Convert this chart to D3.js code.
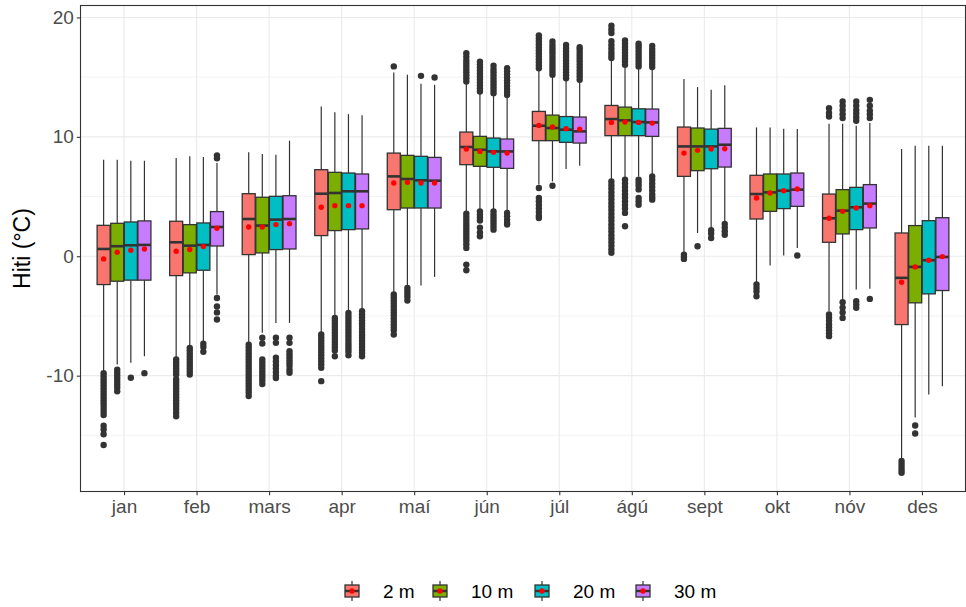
<!DOCTYPE html>
<html>
<head>
<meta charset="utf-8">
<script src="https://cdn.jsdelivr.net/npm/d3@7"></script>
<style>
  body { margin: 0; background: #fff; }
  text { font-family: "Liberation Sans", Arial, sans-serif; }
</style>
</head>
<body>
<svg id="chart" width="966" height="607"></svg>
<script>
// Categories
const months = ['jan', 'feb', 'mars', 'apr', 'maí', 'jún', 'júl', 'ágú', 'sept', 'okt', 'nóv', 'des'];
const depths = ['2 m', '10 m', '20 m', '30 m'];
const depthColors = ['#F8766D', '#7CAE00', '#00BFC4', '#C77CFF'];
const yTicks = [-10, 0, 10, 20];
const yMinor = [-15, -5, 5, 15];

// Box statistics, one row per month, one value per depth (2, 10, 20, 30 m)
const whiskerLow = [
  [-9.62, -9.06, -8.92, -8.37], [-8.5, -7.53, -7.11, -3.2], [-7.25, -6.41, -5.58, -5.58],
  [-6.36, -5.02, -4.6, -4.46], [-3.07, -2.43, -2.45, -1.73], [3.63, 3.9, 3.9, 3.76],
  [6.0, 6.27, 7.3, 7.59], [6.41, 6.55, 6.69, 6.83], [0.33, 1.95, 2.29, 2.79],
  [-2.23, -0.78, 0.06, 0.7], [-4.6, -3.63, -2.79, -2.73], [-17.0, -13.5, -11.57, -10.88]
];
const q1 = [
  [-2.37, -2.09, -2.0, -2.0], [-1.62, -1.39, -1.17, 0.86], [0.14, 0.28, 0.56, 0.61],
  [1.73, 2.15, 2.23, 2.29], [3.9, 4.04, 4.04, 4.04], [7.67, 7.53, 7.45, 7.36],
  [9.68, 9.68, 9.54, 9.48], [10.1, 10.1, 10.1, 10.04], [6.69, 7.17, 7.33, 7.47],
  [3.12, 3.76, 3.99, 4.18], [1.17, 1.87, 2.23, 2.37], [-5.72, -3.9, -3.15, -2.87]
];
const median = [
  [0.61, 0.84, 0.92, 0.95], [1.17, 0.89, 0.95, 2.45], [3.12, 2.57, 3.07, 3.12],
  [5.24, 5.3, 5.44, 5.44], [6.69, 6.47, 6.36, 6.33], [9.15, 8.92, 8.78, 8.78],
  [10.93, 10.74, 10.6, 10.46], [11.49, 11.38, 11.24, 11.21], [9.2, 9.2, 9.2, 9.34],
  [5.21, 5.35, 5.49, 5.58], [3.18, 3.82, 4.1, 4.41], [-1.81, -0.89, -0.33, -0.06]
];
const q3 = [
  [2.59, 2.76, 2.87, 2.96], [2.93, 2.65, 2.79, 3.74], [5.24, 4.94, 5.02, 5.07],
  [7.25, 7.03, 6.97, 6.89], [8.64, 8.45, 8.37, 8.28], [10.4, 10.04, 9.9, 9.82],
  [12.13, 11.82, 11.7, 11.66], [12.63, 12.49, 12.35, 12.33], [10.82, 10.74, 10.65, 10.71],
  [6.78, 6.89, 6.89, 6.97], [5.21, 5.58, 5.77, 6.0], [1.95, 2.57, 2.98, 3.23]
];
const whiskerHigh = [
  [8.09, 8.09, 8.0, 8.0], [8.23, 8.37, 8.31, 7.8], [8.7, 8.56, 8.5, 9.68],
  [12.55, 12.05, 11.9, 11.8], [15.39, 15.2, 14.45, 14.36], [14.45, 13.66, 13.5, 13.3],
  [15.6, 15.06, 14.78, 14.64], [16.45, 15.9, 15.84, 15.75], [14.84, 14.17, 13.94, 14.33],
  [10.79, 10.79, 10.68, 10.65], [11.1, 11.1, 10.93, 11.15], [8.98, 9.26, 9.26, 9.26]
];
const means = [
  [-0.22, 0.33, 0.5, 0.61], [0.42, 0.56, 0.81, 2.34], [2.45, 2.45, 2.65, 2.73],
  [4.1, 4.24, 4.24, 4.24], [6.13, 6.19, 6.13, 6.13], [8.98, 8.78, 8.7, 8.64],
  [10.96, 10.82, 10.68, 10.65], [11.21, 11.24, 11.21, 11.15], [8.64, 8.87, 8.98, 9.0],
  [4.88, 5.3, 5.49, 5.63], [3.18, 3.76, 4.04, 4.24], [-2.18, -0.89, -0.33, -0.03]
];

// Outliers, per month, per depth
const outliers = [
  [ // jan
    [-9.8, -10.05, -10.3, -10.55, -10.8, -11.05, -11.3, -11.55, -11.8, -12.05, -12.3, -12.55, -12.8, -13.05, -13.3, -14.2, -14.5, -14.9, -15.8],
    [-9.5, -9.75, -10.0, -10.25, -10.5, -10.75, -11.0, -11.3],
    [-10.18],
    [-9.79]
  ],
  [ // feb
    [-8.65, -8.9, -9.15, -9.4, -9.65, -9.9, -10.3, -10.55, -10.8, -11.05, -11.3, -11.55, -11.8, -12.05, -12.3, -12.55, -12.8, -13.1, -13.4],
    [-7.67, -7.9, -8.15, -8.4, -8.65, -8.9, -9.15, -9.4, -9.65, -9.9],
    [-7.33, -7.6, -8.0],
    [8.2, 8.45, -3.49, -4.2, -4.7, -5.3]
  ],
  [ // mars
    [-7.4, -7.65, -7.9, -8.15, -8.4, -8.65, -8.9, -9.15, -9.4, -9.65, -9.9, -10.15, -10.4, -10.65, -10.9, -11.15, -11.4, -11.7],
    [-6.83, -7.3, -8.64, -8.9, -9.15, -9.4, -9.65, -9.9, -10.15, -10.4, -10.7],
    [-6.83, -7.25, -8.5, -8.8, -9.1, -9.4, -9.7, -10.0, -10.2],
    [-6.83, -7.25, -7.95, -8.2, -8.45, -8.7, -8.95, -9.2, -9.5, -9.76]
  ],
  [ // apr
    [-6.55, -6.8, -7.05, -7.3, -7.55, -7.8, -8.05, -8.3, -8.55, -8.8, -9.05, -9.34, -10.46],
    [-5.16, -5.4, -5.65, -5.9, -6.15, -6.4, -6.65, -6.9, -7.15, -7.4, -7.65, -7.9, -8.37],
    [-4.74, -5.0, -5.25, -5.5, -5.75, -6.0, -6.25, -6.5, -6.75, -7.0, -7.25, -7.5, -7.75, -8.0, -8.3],
    [-4.6, -4.85, -5.1, -5.35, -5.6, -5.85, -6.1, -6.35, -6.6, -6.85, -7.1, -7.35, -7.6, -7.85, -8.1, -8.37]
  ],
  [ // maí
    [15.9, -3.2, -3.45, -3.7, -3.95, -4.2, -4.45, -4.7, -4.95, -5.2, -5.45, -5.7, -5.95, -6.2, -6.55],
    [-2.65, -2.9, -3.15, -3.4, -3.7],
    [15.11],
    [14.97]
  ],
  [ // jún
    [14.64, 14.9, 15.15, 15.4, 15.65, 15.9, 16.15, 16.4, 16.7, 17.0, 3.57, 3.3, 3.05, 2.8, 2.55, 2.3, 2.05, 1.8, 1.55, 1.3, 1.0, 0.7, -0.7, -1.17],
    [13.8, 14.05, 14.3, 14.55, 14.8, 15.05, 15.3, 15.55, 15.8, 16.05, 16.3, 3.76, 3.5, 3.25, 3.0, 2.4, 2.0, 1.67],
    [13.66, 13.9, 14.15, 14.4, 14.65, 14.9, 15.15, 15.4, 15.65, 15.95, 3.76, 3.5, 3.25, 3.0, 2.75, 2.5, 2.23],
    [13.5, 13.75, 14.0, 14.25, 14.5, 14.75, 15.0, 15.25, 15.5, 15.75, 3.63, 3.35, 3.05, 2.8, 2.65]
  ],
  [ // júl
    [15.75, 16.0, 16.25, 16.5, 16.75, 17.0, 17.25, 17.5, 17.75, 18.0, 18.25, 18.5, 5.72, 4.88, 4.6, 4.3, 4.0, 3.7, 3.4, 3.2],
    [15.2, 15.45, 15.7, 15.95, 16.2, 16.45, 16.7, 16.95, 17.2, 17.45, 17.7, 17.99, 5.91],
    [14.9, 15.15, 15.4, 15.65, 15.9, 16.15, 16.4, 16.65, 16.9, 17.15, 17.4, 17.7],
    [14.78, 15.05, 15.3, 15.55, 15.8, 16.05, 16.3, 16.55, 16.8, 17.05, 17.3, 17.5]
  ],
  [ // ágú
    [19.3, 19.0, 18.7, 18.0, 17.7, 17.4, 17.1, 16.85, 16.6, 6.27, 5.97, 5.67, 5.37, 5.07, 4.77, 4.47, 4.17, 3.87, 3.57, 3.27, 2.97, 2.67, 2.37, 2.07, 1.77, 1.47, 1.17, 0.87, 0.57, 0.28],
    [16.03, 16.3, 16.55, 16.8, 17.05, 17.3, 17.55, 17.8, 18.07, 6.41, 6.1, 5.8, 5.5, 5.2, 4.9, 4.6, 4.3, 4.0, 3.63, 2.51],
    [15.9, 16.15, 16.4, 16.65, 16.9, 17.15, 17.4, 17.6, 17.8, 6.41, 6.15, 5.9, 5.6, 4.88, 4.6, 4.32],
    [15.84, 16.1, 16.35, 16.6, 16.85, 17.1, 17.35, 17.62, 6.69, 6.4, 6.1, 5.8, 5.5, 5.2, 4.95, 4.74]
  ],
  [ // sept
    [0.14, -0.05, -0.22],
    [0.84],
    [2.18, 1.9, 1.53],
    [2.7, 2.4, 2.1, 1.8]
  ],
  [ // okt
    [-2.37, -2.65, -2.95, -3.35],
    [],
    [],
    [0.06]
  ],
  [ // nóv
    [11.7, 12.0, 12.4, -4.88, -5.15, -5.4, -5.7, -5.95, -6.2, -6.45, -6.69],
    [11.57, 11.9, 12.25, 12.6, 12.97, -3.85, -4.3, -4.7, -5.16],
    [11.35, 11.65, 11.95, 12.25, 12.6, 12.97, -3.76, -4.05, -4.32],
    [11.57, 11.9, 12.2, 12.6, 13.1, -3.57]
  ],
  [ // des
    [-17.15, -17.4, -17.65, -17.9, -18.13],
    [-14.17, -14.84],
    [],
    []
  ]
];

const svg = d3.select('#chart');
const panel = { left: 80.5, right: 965.5, top: 5.5, bottom: 491.5 };

const x = d3.scalePoint().domain(months).range([panel.left, panel.right]).padding(0.6);
const y = d3.scaleLinear().domain([-19.7, 21.0]).range([panel.bottom, panel.top]);

const dodge = x.step() * 0.75 / depths.length;
const boxW = dodge - 0.6;
const ink = '#333333';

// Grid
const grid = svg.append('g');
grid.selectAll('.minor').data(yMinor).join('line')
  .attr('x1', panel.left).attr('x2', panel.right)
  .attr('y1', d => y(d)).attr('y2', d => y(d))
  .attr('stroke', '#EBEBEB').attr('stroke-width', 0.6);
grid.selectAll('.major').data(yTicks).join('line')
  .attr('x1', panel.left).attr('x2', panel.right)
  .attr('y1', d => y(d)).attr('y2', d => y(d))
  .attr('stroke', '#EBEBEB').attr('stroke-width', 1.1);
grid.selectAll('.vmajor').data(months).join('line')
  .attr('x1', d => x(d)).attr('x2', d => x(d))
  .attr('y1', panel.top).attr('y2', panel.bottom)
  .attr('stroke', '#EBEBEB').attr('stroke-width', 1.1);

// Build flat list of boxes
const boxes = [];
months.forEach((m, i) => {
  depths.forEach((dp, j) => {
    boxes.push({
      month: m, depth: j,
      cx: x(m) + (j - 1.5) * dodge,
      lo: whiskerLow[i][j], q1: q1[i][j], med: median[i][j], q3: q3[i][j], hi: whiskerHigh[i][j],
      mean: means[i][j], out: outliers[i][j]
    });
  });
});

const g = svg.append('g');
const bg = g.selectAll('g.box').data(boxes).join('g').attr('class', 'box');

// whiskers
bg.append('line')
  .attr('x1', d => d.cx).attr('x2', d => d.cx)
  .attr('y1', d => y(d.hi)).attr('y2', d => y(d.q3))
  .attr('stroke', ink).attr('stroke-width', 1.2);
bg.append('line')
  .attr('x1', d => d.cx).attr('x2', d => d.cx)
  .attr('y1', d => y(d.q1)).attr('y2', d => y(d.lo))
  .attr('stroke', ink).attr('stroke-width', 1.2);

// outliers
bg.selectAll('circle.out').data(d => d.out.map(v => ({ cx: d.cx, v }))).join('circle')
  .attr('class', 'out')
  .attr('cx', d => d.cx).attr('cy', d => y(d.v)).attr('r', 3.2)
  .attr('fill', ink);

// box
bg.append('rect')
  .attr('x', d => d.cx - boxW / 2).attr('width', boxW)
  .attr('y', d => y(d.q3)).attr('height', d => y(d.q1) - y(d.q3))
  .attr('fill', d => depthColors[d.depth])
  .attr('stroke', ink).attr('stroke-width', 1.3);

// median
bg.append('line')
  .attr('x1', d => d.cx - boxW / 2).attr('x2', d => d.cx + boxW / 2)
  .attr('y1', d => y(d.med)).attr('y2', d => y(d.med))
  .attr('stroke', ink).attr('stroke-width', 2.6);

// mean
bg.append('circle')
  .attr('cx', d => d.cx).attr('cy', d => y(d.mean)).attr('r', 2.7)
  .attr('fill', '#FF0000');

// Panel border
svg.append('rect')
  .attr('x', panel.left).attr('y', panel.top)
  .attr('width', panel.right - panel.left).attr('height', panel.bottom - panel.top)
  .attr('fill', 'none').attr('stroke', ink).attr('stroke-width', 1.1);

// Axes
const yAxis = svg.append('g').attr('transform', `translate(${panel.left},0)`)
  .call(d3.axisLeft(y).tickValues(yTicks).tickSize(3.7).tickPadding(3).tickFormat(d3.format('d')));
const xAxis = svg.append('g').attr('transform', `translate(0,${panel.bottom})`)
  .call(d3.axisBottom(x).tickSize(3.7).tickPadding(4));
[yAxis, xAxis].forEach(ax => {
  ax.select('.domain').remove();
  ax.selectAll('.tick line').attr('stroke', ink).attr('stroke-width', 1.1);
  ax.selectAll('.tick text').attr('fill', '#4D4D4D').style('font-size', '19px')
    .style('font-family', '"Liberation Sans", Arial, sans-serif');
});
yAxis.selectAll('.tick text').text(d => d < 0 ? '-' + Math.abs(d) : d);

// Y title
svg.append('text')
  .attr('transform', `translate(30,${(panel.top + panel.bottom) / 2}) rotate(-90)`)
  .attr('text-anchor', 'middle')
  .style('font-size', '23px').attr('fill', '#000')
  .text('Hiti (°C)');

// Legend
const legendX = [345, 433, 535, 636];
const legY = 591;
const leg = svg.append('g').selectAll('g').data(depths).join('g')
  .attr('transform', (d, i) => `translate(${legendX[i]},${legY})`);
leg.append('line').attr('x1', 7).attr('x2', 7).attr('y1', -10).attr('y2', 10)
  .attr('stroke', ink).attr('stroke-width', 1.2);
leg.append('rect').attr('x', 0).attr('y', -6).attr('width', 14).attr('height', 12)
  .attr('fill', (d, i) => depthColors[i]).attr('stroke', ink).attr('stroke-width', 1.3);
leg.append('line').attr('x1', 0).attr('x2', 14).attr('y1', 0).attr('y2', 0)
  .attr('stroke', ink).attr('stroke-width', 2.4);
leg.append('circle').attr('cx', 7).attr('cy', 0).attr('r', 2.7).attr('fill', '#FF0000');
leg.append('text').attr('x', 38).attr('y', 7)
  .style('font-size', '19px').attr('fill', '#000')
  .text(d => d);
</script>
</body>
</html>
